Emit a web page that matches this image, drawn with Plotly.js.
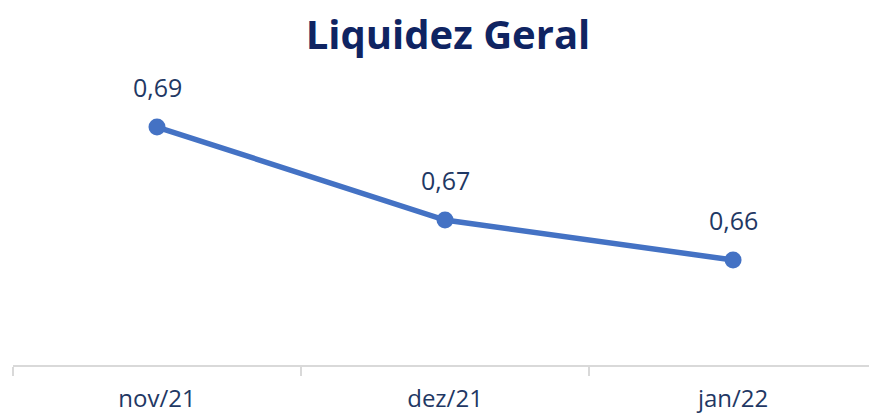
<!DOCTYPE html>
<html>
<head>
<meta charset="utf-8">
<script src="https://cdn.plot.ly/plotly-3.0.1.min.js"></script>
<style>html,body{margin:0;padding:0;background:#fff;}#chart{width:869px;height:417px;}</style>
</head>
<body>
<div id="chart"></div>
<script>
var categories = ["nov/21", "dez/21", "jan/22"];
var values = [0.689, 0.669, 0.6604];
var labels = ["0,69", "0,67", "0,66"];

var trace = {
  x: categories,
  y: values,
  type: "scatter",
  mode: "lines+markers",
  line: {color: "#4472C4", width: 5.5},
  marker: {color: "#4472C4", size: 17},
  hoverinfo: "skip"
};

var annotations = categories.map(function (c, i) {
  return {
    x: c, y: values[i], xref: "x", yref: "y",
    text: labels[i], showarrow: false, yshift: 40,
    font: {family: "Open Sans", size: 25, color: "#1F3864"}
  };
});

var layout = {
  width: 869, height: 417,
  margin: {l: 13, r: 0, t: 100, b: 52},
  paper_bgcolor: "#fff", plot_bgcolor: "#fff",
  showlegend: false,
  title: {
    text: "<b>Liquidez Geral</b>",
    font: {family: "Open Sans", size: 40, color: "#0F2462"},
    x: 0.5155, xref: "container", xanchor: "center",
    y: 0.916, yref: "container", yanchor: "middle"
  },
  xaxis: {
    type: "category",
    range: [-0.5, 2.472],
    tickson: "boundaries",
    ticks: "outside", ticklen: 9, tickwidth: 2, tickcolor: "#D9D9D9",
    showline: true, linecolor: "#D9D9D9", linewidth: 2,
    showgrid: false, zeroline: false,
    ticklabelstandoff: 11,
    tickfont: {family: "Open Sans", size: 24, color: "#1F3864"}
  },
  yaxis: {
    range: [0.63782, 0.69481],
    visible: false, showgrid: false, zeroline: false
  },
  annotations: annotations
};

Plotly.newPlot("chart", [trace], layout, {staticPlot: true, displayModeBar: false});
</script>
</body>
</html>
